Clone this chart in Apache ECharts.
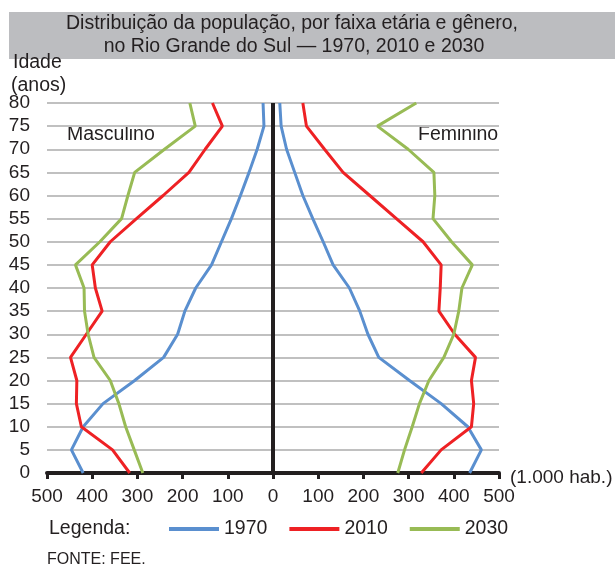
<!DOCTYPE html>
<html>
<head>
<meta charset="utf-8">
<script src="https://cdn.jsdelivr.net/npm/echarts@6/dist/echarts.min.js"></script>
<style>
  html, body { margin: 0; padding: 0; background: #fff; }
  #chart { width: 616px; height: 567px; }
</style>
</head>
<body>
<div id="chart"></div>
<script>
// idades (eixo vertical)
var idades = [0, 5, 10, 15, 20, 25, 30, 35, 40, 45, 50, 55, 60, 65, 70, 75, 80];

// masculino (1.000 hab.)
var masc1970 = [420, 446, 420, 376, 306, 242, 211, 195, 171, 136, 114, 92, 72, 53, 35, 20, 22];
var masc2010 = [317, 355, 424, 435, 434, 448, 413, 378, 393, 400, 360, 302, 243, 186, 150, 112, 134];
var masc2030 = [288, 307, 326, 341, 360, 396, 409, 417, 418, 437, 383, 335, 321, 306, 240, 172, 184];

// feminino (1.000 hab.)
var fem1970 = [435, 461, 431, 372, 302, 234, 210, 192, 169, 133, 111, 88, 66, 48, 30, 18, 15];
var fem2010 = [328, 372, 439, 444, 439, 448, 402, 367, 370, 372, 332, 273, 214, 155, 114, 74, 66];
var fem2030 = [276, 291, 308, 324, 345, 378, 400, 411, 418, 441, 395, 354, 358, 356, 299, 231, 317];

var anos = ['1970', '2010', '2030'];
var cores = ['#5a8fcf', '#ee2124', '#98bb55'];

var chart = echarts.init(document.getElementById('chart'));
var fonte = '"Liberation Sans", Arial, sans-serif';
var tinta = '#231f20';

function lado(valores, sinal) {
  return valores.map(function (v, i) { return [sinal * v, idades[i]]; });
}

var grupos = [
  [masc1970, fem1970],
  [masc2010, fem2010],
  [masc2030, fem2030]
];

var series = [];
grupos.forEach(function (g, k) {
  series.push({
    name: anos[k], type: 'line', symbol: 'none', silent: true,
    data: lado(g[0], -1),
    lineStyle: { color: cores[k], width: 3 },
    itemStyle: { color: cores[k] }
  });
  series.push({
    name: anos[k], type: 'line', symbol: 'none', silent: true,
    data: lado(g[1], 1),
    lineStyle: { color: cores[k], width: 3 },
    itemStyle: { color: cores[k] }
  });
});

// linha central
series.push({
  type: 'line', data: [], silent: true,
  markLine: {
    symbol: 'none', silent: true, animation: false,
    label: { show: false },
    lineStyle: { color: tinta, width: 4, type: 'solid' },
    data: [{ xAxis: 0 }]
  }
});

function texto(t, x, y, tam) {
  return {
    type: 'text', x: x, y: y, silent: true,
    style: { text: t, fill: tinta, font: (tam || 19.5) + 'px ' + fonte, textVerticalAlign: 'middle' }
  };
}

var tTitulo1 = texto('Distribuição da população, por faixa etária e gênero,', 292, 24);
tTitulo1.style.textAlign = 'center';
var tTitulo2 = texto('no Rio Grande do Sul — 1970, 2010 e 2030', 294, 47);
tTitulo2.style.textAlign = 'center';

chart.setOption({
  animation: false,
  textStyle: { fontFamily: fonte },
  grid: { left: 47, right: 117, top: 103, bottom: 94 },
  xAxis: {
    type: 'value', min: -500, max: 500, interval: 100,
    axisLine: { onZero: false, lineStyle: { color: tinta, width: 4 } },
    axisTick: { show: true, length: 6, lineStyle: { color: tinta, width: 3 } },
    axisLabel: {
      color: tinta, fontSize: 19, margin: 14, fontFamily: fonte,
      formatter: function (v) { return Math.abs(v); }
    },
    splitLine: { show: false }
  },
  yAxis: {
    type: 'value', min: 0, max: 80, interval: 5,
    axisLine: { show: false },
    axisTick: { show: false },
    axisLabel: { color: tinta, fontSize: 19, margin: 17, fontFamily: fonte },
    splitLine: { lineStyle: { color: '#c0c0c0', width: 2 } }
  },
  legend: {
    data: anos, left: 164, top: 514, icon: 'rect',
    itemWidth: 50, itemHeight: 4, itemGap: 22,
    textStyle: { color: tinta, fontSize: 19.5, fontFamily: fonte }
  },
  graphic: [
    { type: 'rect', shape: { x: 9, y: 12, width: 606, height: 47 }, style: { fill: '#bcbdc0' }, silent: true },
    tTitulo1,
    tTitulo2,
    texto('Idade', 13, 63),
    texto('(anos)', 11, 86),
    texto('Masculino', 67, 135),
    texto('Feminino', 418, 135),
    texto('(1.000 hab.)', 510, 478, 19),
    texto('Legenda:', 49, 529),
    texto('FONTE: FEE.', 47, 560, 16)
  ],
  series: series
});
</script>
</body>
</html>
